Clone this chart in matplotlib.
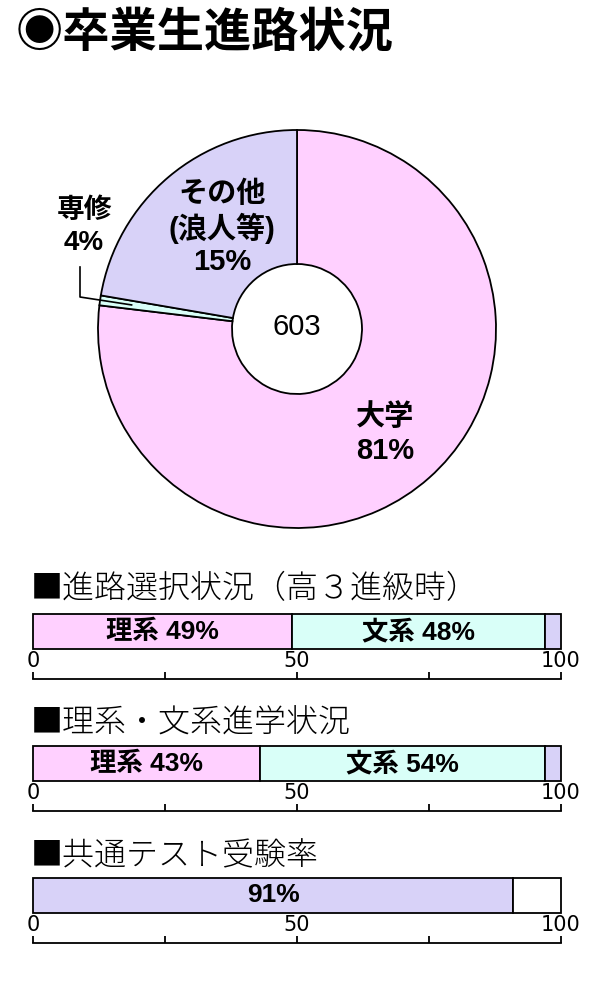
import matplotlib
matplotlib.use("Agg")
import matplotlib.pyplot as plt
import numpy as np

plt.rcParams['font.family'] = ['Noto Sans CJK JP', 'DejaVu Sans']
MIX = ['Liberation Sans', 'Noto Sans CJK JP', 'DejaVu Sans']

# ---- data ----
title = "◉卒業生進路状況"
pie_labels = ["大学\n81%", "専修\n4%", "その他\n(浪人等)\n15%"]
pie_shares = [76.9, 0.8, 22.3]          # wedge sizes as drawn in the picture
pie_colors = ["#FFD0FF", "#D9FFF8", "#D8D2F8"]
pie_total = "603"

sec_titles = ["■進路選択状況（高３進級時）", "■理系・文系進学状況", "■共通テスト受験率"]
bar_names = [["理系", "文系", ""], ["理系", "文系", ""], ["", ""]]
bar_values = [[49, 48, 3], [43, 54, 3], [91, 9]]
bar_colors = [["#FFD0FF", "#D9FFF8", "#D8D2F8"],
              ["#FFD0FF", "#D9FFF8", "#D8D2F8"],
              ["#D8D2F8", "#FFFFFF"]]
bar_show = [[True, True, False], [True, True, False], [True, False]]
major_ticks = [0, 50, 100]
minor_ticks = [25, 75]

W, H = 600, 1000
fig = plt.figure(figsize=(6, 10), dpi=100)

def px_axes(x0, y0, x1, y1):
    return fig.add_axes([x0 / W, 1 - y1 / H, (x1 - x0) / W, (y1 - y0) / H])

ov = fig.add_axes([0, 0, 1, 1])
ov.set_xlim(0, W)
ov.set_ylim(H, 0)
ov.axis('off')
ov.set_zorder(5)

ov.text(16, 33, title, fontsize=34, fontweight='bold', ha='left', va='center')

# ---- pie ----
cx, cy, R, r_in = 297, 329, 199, 65
pa = px_axes(cx - 200, cy - 200, cx + 200, cy + 200)
wedges, _ = pa.pie(pie_shares, colors=pie_colors, startangle=90, counterclock=False,
                   radius=R / 200, wedgeprops=dict(width=(R - r_in) / 200,
                                                   edgecolor='black', linewidth=1.3))
pa.set_xlim(-1, 1)
pa.set_ylim(-1, 1)
pa.set_aspect('equal')
pa.axis('off')

ov.text(cx, cy - 2, pie_total, fontsize=21, family=MIX, ha='center', va='center')
ov.text(385, 434, pie_labels[0], fontsize=21, fontweight='bold', family=MIX,
        ha='center', va='center', linespacing=1.25)
ov.text(222, 228, pie_labels[2], fontsize=21, fontweight='bold', family=MIX,
        ha='center', va='center', linespacing=1.2)
ov.text(84, 227, pie_labels[1], fontsize=20, fontweight='bold', family=MIX,
        ha='center', va='center', linespacing=1.25)
w = wedges[1]
mid = np.deg2rad((w.theta1 + w.theta2) / 2)
ex, ey = 0.84 * R * np.cos(mid), 0.84 * R * np.sin(mid)
ov.plot([80, 80, cx + ex], [267, 297, cy - ey], color='black', lw=1.2)

# ---- bars ----
bx0, bx1 = 33, 561
bar_tops = [614, 746, 878]
bar_h = 35
title_y = [589, 723, 856]
for i in range(3):
    ov.text(bx0 - 2, title_y[i], sec_titles[i], fontsize=23, fontweight='light',
            ha='left', va='center')
    top = bar_tops[i]
    ax = px_axes(bx0, top, bx1, top + bar_h)
    ax.set_xlim(0, 100)
    ax.set_ylim(0, 1)
    ax.axis('off')
    left = 0
    for v, c, n, s in zip(bar_values[i], bar_colors[i], bar_names[i], bar_show[i]):
        ax.barh(0.5, v, left=left, height=1, color=c, edgecolor='black', linewidth=1.3,
                clip_on=False)
        if s:
            lab = (n + " " if n else "") + f"{v}%"
            ax.text(left + v / 2, 0.5, lab, fontsize=19, fontweight='bold', family=MIX,
                    ha='center', va='center')
        left += v
    ly = top + bar_h + 30
    sa = fig.add_axes([bx0 / W, 1 - ly / H, (bx1 - bx0) / W, 0])
    sa.set_xlim(0, 100)
    for s in ['left', 'right', 'bottom']:
        sa.spines[s].set_visible(False)
    sa.spines['top'].set_linewidth(1.3)
    sa.set_yticks([])
    sa.xaxis.set_ticks_position('top')
    sa.set_xticks(major_ticks)
    sa.set_xticks(minor_ticks, minor=True)
    sa.tick_params(axis='x', which='both', direction='out', length=5, width=1.3,
                   labeltop=True, labelbottom=False, pad=1, labelsize=15)
    for t in sa.get_xticklabels():
        t.set_family(['Liberation Sans Narrow', 'DejaVu Sans'])

fig.savefig("out.png", dpi=100)
